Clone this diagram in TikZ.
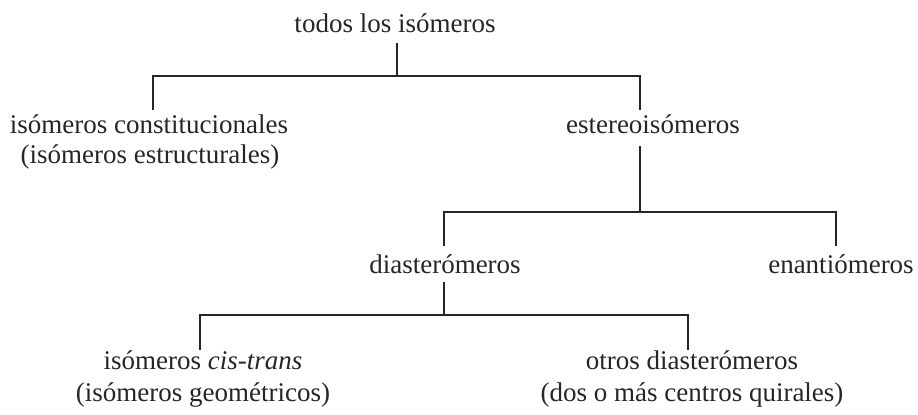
\documentclass[tikz,border=0pt]{standalone}
\usepackage{fontspec}
\setmainfont{Liberation Serif}
\begin{document}
\begin{tikzpicture}[x=0.5pt,y=-0.5pt,
  lbl/.style={inner sep=0pt,anchor=base,text=black!85,font=\fontsize{13.5}{15}\selectfont},
  conn/.style={line width=0.7pt,draw=black!85}]
\useasboundingbox (0,0) rectangle (918,415);
% nodes
\node[lbl] (todos) at (395,33) {todos los isómeros};
\node[lbl] (constit) at (149,134) {isómeros constitucionales};
\node[lbl] (constitb) at (150,164) {(isómeros estructurales)};
\node[lbl] (estereo) at (653,134) {estereoisómeros};
\node[lbl] (diaster) at (445,274) {diasterómeros};
\node[lbl] (enantio) at (841,274) {enantiómeros};
\node[lbl] (cistrans) at (203,370) {isómeros \textit{cis-trans}};
\node[lbl] (cistransb) at (203,402) {(isómeros geométricos)};
\node[lbl] (otros) at (692,370) {otros diasterómeros};
\node[lbl] (otrosb) at (692,402) {(dos o más centros quirales)};
% connector end points
\coordinate (todosS) at (397,43);
\coordinate (j1) at (397,76);
\coordinate (constitN) at (153,110);
\coordinate (estereoN) at (640,110);
\coordinate (estereoS) at (640,146);
\coordinate (j2) at (640,212);
\coordinate (diasterN) at (444,246);
\coordinate (enantioN) at (836,246);
\coordinate (diasterS) at (444,282);
\coordinate (j3) at (444,315);
\coordinate (cistransN) at (200,350);
\coordinate (otrosN) at (688,350);
% connectors
\draw[conn] (todosS) -- (j1);
\draw[conn] (constitN) |- (j1) -| (estereoN);
\draw[conn] (estereoS) -- (j2);
\draw[conn] (diasterN) |- (j2) -| (enantioN);
\draw[conn] (diasterS) -- (j3);
\draw[conn] (cistransN) |- (j3) -| (otrosN);
\end{tikzpicture}
\end{document}
